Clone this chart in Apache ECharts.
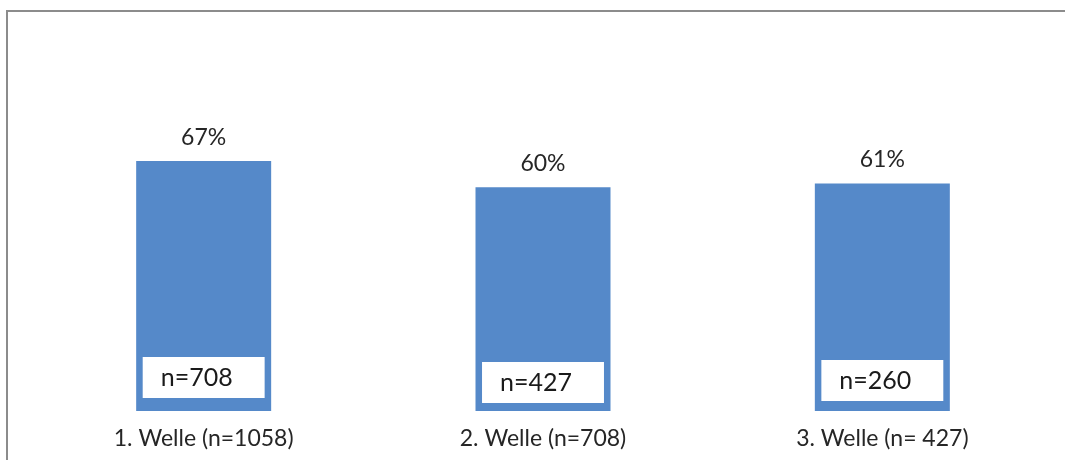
<!DOCTYPE html>
<html>
<head>
<meta charset="utf-8">
<script src="https://cdn.jsdelivr.net/npm/echarts@6/dist/echarts.min.js"></script>
<style>
html,body{margin:0;padding:0;background:#fff;}
#c{width:1065px;height:460px;}
</style>
</head>
<body>
<div id="c"></div>
<script>
const categories = ['1. Welle (n=1058)', '2. Welle (n=708)', '3. Welle (n= 427)'];
const percentValues = [67, 60, 61];
const innerCounts = [708, 427, 260];

const chart = echarts.init(document.getElementById('c'), null, {renderer: 'canvas'});
const font = 'Lato, "Open Sans", sans-serif';
const boxDistances = [13, 8, 10];

chart.setOption({
  animation: false,
  backgroundColor: '#ffffff',
  graphic: [{
    type: 'rect',
    shape: {x: 7, y: 11, width: 1200, height: 600},
    style: {fill: 'none', stroke: '#8c8c8c', lineWidth: 2},
    silent: true
  }],
  grid: {left: 34, right: 13, top: 38, bottom: 49, containLabel: false},
  xAxis: {
    type: 'category',
    data: categories,
    axisLine: {show: false},
    axisTick: {show: false},
    axisLabel: {color: '#262626', fontSize: 23, fontFamily: font, margin: 16}
  },
  yAxis: {
    type: 'value',
    min: 0,
    max: 100,
    show: false,
    splitLine: {show: false}
  },
  series: [
    {
      type: 'bar',
      data: percentValues,
      barWidth: 135,
      itemStyle: {color: '#5589c9'},
      label: {
        show: true,
        position: 'top',
        distance: 12,
        formatter: p => p.value + '%',
        color: '#262626',
        fontSize: 23,
        fontFamily: font
      },
      z: 2
    },
    {
      type: 'bar',
      data: percentValues.map((v, i) => ({
        value: v,
        label: {distance: boxDistances[i]}
      })),
      barWidth: 135,
      barGap: '-100%',
      itemStyle: {color: 'rgba(0,0,0,0)'},
      label: {
        show: true,
        position: 'insideBottom',
        formatter: p => 'n=' + innerCounts[p.dataIndex],
        color: '#1a1a1a',
        fontSize: 25,
        fontFamily: font,
        backgroundColor: '#ffffff',
        lineHeight: 21,
        padding: [10, 32, 10, 18]
      },
      z: 3
    }
  ]
});
</script>
</body>
</html>
